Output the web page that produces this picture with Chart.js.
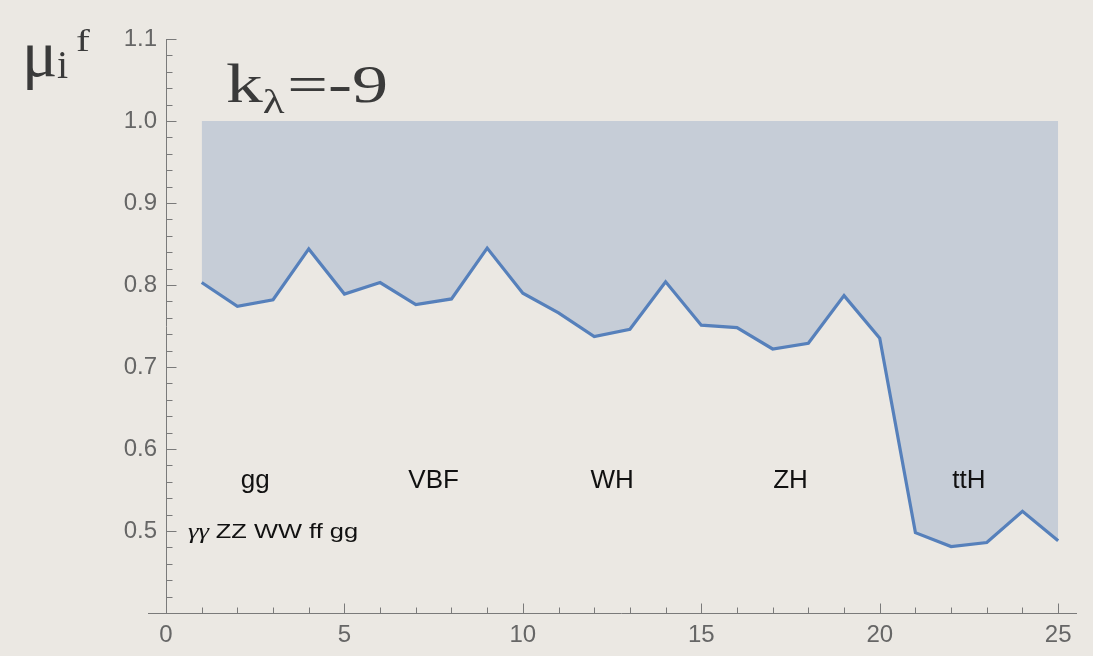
<!DOCTYPE html>
<html>
<head>
<meta charset="utf-8">
<script src="https://cdn.jsdelivr.net/npm/chart.js@4.4.1/dist/chart.umd.min.js"></script>
<style>
  html, body { margin: 0; padding: 0; background: #ebe8e3; }
  #wrap { width: 1093px; height: 656px; position: relative; }
  canvas { display: block; }
</style>
</head>
<body>
<div id="wrap"><canvas id="chart" width="1093" height="656"></canvas></div>
<script>
// Channel index i (production mode x decay mode) and signal strength mu_i^f
const channelIndex = [1, 2, 3, 4, 5, 6, 7, 8, 9, 10, 11, 12, 13, 14, 15, 16, 17, 18, 19, 20, 21, 22, 23, 24, 25];
const muValues = [
  0.803, 0.774, 0.782, 0.844, 0.789,
  0.803, 0.776, 0.783, 0.845, 0.790,
  0.766, 0.737, 0.746, 0.804, 0.751,
  0.748, 0.722, 0.729, 0.787, 0.735,
  0.498, 0.481, 0.486, 0.524, 0.488
];
const upperBound = 1.0;

// Production modes, one block of five decay channels each
const productionModes = ['gg', 'VBF', 'WH', 'ZH', 'ttH'];
const productionCenters = [2.5, 7.5, 12.5, 17.5, 22.5];
const decayModes = ['γγ', 'ZZ', 'WW', 'ff', 'gg'];

// Axis ticks
const xMajorTicks = [0, 5, 10, 15, 20, 25];
const xTickLabels = ['0', '5', '10', '15', '20', '25'];
const xMinorTicks = [1, 2, 3, 4, 6, 7, 8, 9, 11, 12, 13, 14, 16, 17, 18, 19, 21, 22, 23, 24];
const yMajorTicks = [0.4, 0.5, 0.6, 0.7, 0.8, 0.9, 1.0, 1.1];
const yTickLabels = ['', '0.5', '0.6', '0.7', '0.8', '0.9', '1.0', '1.1'];
const yMinorTicks = [
  0.42, 0.44, 0.46, 0.48, 0.52, 0.54, 0.56, 0.58, 0.62, 0.64, 0.66, 0.68,
  0.72, 0.74, 0.76, 0.78, 0.82, 0.84, 0.86, 0.88, 0.92, 0.94, 0.96, 0.98,
  1.02, 1.04, 1.06, 1.08
];
const xAxisStart = -0.5;

const AXIS_COLOR = '#7a7a7a';
const LINE_COLOR = '#5680bb';
const FILL_COLOR = 'rgba(94,129,181,0.26)';
const SANS = '"Liberation Sans", Arial, Helvetica, sans-serif';
const SERIF = '"Liberation Serif", "Times New Roman", serif';

// Inward-pointing major/minor tick marks, plus the x axis running past the origin
const tickMarks = {
  id: 'tickMarks',
  afterDraw(chart) {
    const { ctx } = chart;
    const xs = chart.scales.x, ys = chart.scales.y;
    const x0 = Math.round(xs.getPixelForValue(0)) + 0.5;
    const yb = Math.round(ys.getPixelForValue(0.4)) + 0.5;
    ctx.save();
    ctx.strokeStyle = AXIS_COLOR;
    ctx.lineWidth = 1;
    ctx.beginPath();
    ctx.moveTo(Math.round(xs.getPixelForValue(xAxisStart)), yb);
    ctx.lineTo(x0, yb);
    yMajorTicks.forEach(v => {
      const py = Math.round(ys.getPixelForValue(v)) + 0.5;
      ctx.moveTo(x0, py); ctx.lineTo(x0 + 10, py);
    });
    yMinorTicks.forEach(v => {
      const py = Math.round(ys.getPixelForValue(v)) + 0.5;
      ctx.moveTo(x0, py); ctx.lineTo(x0 + 6, py);
    });
    xMajorTicks.forEach(v => {
      if (v === 0) return;
      const px = Math.round(xs.getPixelForValue(v)) + 0.5;
      ctx.moveTo(px, yb); ctx.lineTo(px, yb - 10);
    });
    xMinorTicks.forEach(v => {
      const px = Math.round(xs.getPixelForValue(v)) + 0.5;
      ctx.moveTo(px, yb); ctx.lineTo(px, yb - 6);
    });
    ctx.stroke();
    ctx.restore();
  }
};

// Draws text stretched horizontally to a given width
function drawFitted(ctx, parts, x, baseline, width) {
  let natural = 0;
  parts.forEach(p => { ctx.font = p.font; natural += ctx.measureText(p.text).width + (p.gap || 0); });
  const sx = width / natural;
  ctx.save();
  ctx.translate(x, baseline);
  ctx.scale(sx, 1);
  let cx = 0;
  parts.forEach(p => {
    ctx.font = p.font;
    ctx.fillText(p.text, cx, p.dy || 0);
    cx += ctx.measureText(p.text).width + (p.gap || 0);
  });
  ctx.restore();
}

// Block labels, decay list, panel title and axis symbol
const labels = {
  id: 'labels',
  afterDraw(chart) {
    const { ctx } = chart;
    const xs = chart.scales.x, ys = chart.scales.y;
    ctx.save();
    ctx.fillStyle = '#111';
    ctx.textBaseline = 'alphabetic';
    ctx.textAlign = 'center';
    ctx.font = '26px ' + SANS;
    const modeY = ys.getPixelForValue(0.552);
    productionModes.forEach((m, i) => {
      ctx.fillText(m, xs.getPixelForValue(productionCenters[i]), modeY);
    });

    ctx.textAlign = 'left';
    const decayParts = decayModes.map((d, i) => ({
      text: d + (i < decayModes.length - 1 ? ' ' : ''),
      font: /[\u0370-\u03ff]/.test(d) ? 'italic 21px ' + SERIF : '20px ' + SANS
    }));
    const decayWidth = 170;
    drawFitted(ctx, decayParts, xs.getPixelForValue(3) - decayWidth / 2, ys.getPixelForValue(0.492), decayWidth);

    // panel title k_lambda = -9
    ctx.fillStyle = '#3a3a3a';
    drawFitted(ctx, [
      { text: 'k', font: '54px ' + SERIF },
      { text: 'λ', font: '33px ' + SERIF, dy: 11, gap: 2 },
      { text: '=-9', font: '53px ' + SERIF }
    ], 226, 102, 162);

    // axis symbol mu_i^f
    ctx.font = '66px ' + SERIF;
    ctx.fillText('μ', 22, 76);
    ctx.font = '40px ' + SERIF;
    ctx.fillText('i', 57, 78);
    ctx.save();
    ctx.translate(76, 51);
    ctx.scale(1.3, 1);
    ctx.font = '32px ' + SERIF;
    ctx.fillText('f', 0, 0);
    ctx.restore();
    ctx.restore();
  }
};

const tickFont = { family: SANS, size: 24 };

new Chart(document.getElementById('chart'), {
  type: 'line',
  data: {
    datasets: [{
      data: channelIndex.map((x, i) => ({ x, y: muValues[i] })),
      borderColor: LINE_COLOR,
      borderWidth: 3.2,
      backgroundColor: FILL_COLOR,
      fill: { value: upperBound },
      pointRadius: 0,
      tension: 0,
      borderJoinStyle: 'miter'
    }]
  },
  options: {
    responsive: false,
    animation: false,
    devicePixelRatio: 1,
    layout: { padding: { left: 106, right: 17, top: 39, bottom: 0 } },
    plugins: { legend: { display: false }, tooltip: { enabled: false } },
    scales: {
      x: {
        type: 'linear',
        min: 0,
        max: 25.5,
        afterBuildTicks: s => { s.ticks = xMajorTicks.map(v => ({ value: v })); },
        afterFit: s => { s.height = 43; },
        ticks: {
          font: tickFont,
          color: '#666',
          padding: 8,
          maxRotation: 0,
          autoSkip: false,
          callback: v => xTickLabels[xMajorTicks.indexOf(v)]
        },
        grid: { drawOnChartArea: false, drawTicks: false },
        border: { color: AXIS_COLOR, width: 1 }
      },
      y: {
        type: 'linear',
        position: 'left',
        min: 0.4,
        max: 1.1,
        afterBuildTicks: s => { s.ticks = yMajorTicks.map(v => ({ value: v })); },
        afterFit: s => { s.width = 60; },
        ticks: {
          font: tickFont,
          color: '#666',
          padding: 9,
          autoSkip: false,
          callback: v => yTickLabels[yMajorTicks.indexOf(v)]
        },
        grid: { drawOnChartArea: false, drawTicks: false },
        border: { color: AXIS_COLOR, width: 1 }
      }
    }
  },
  plugins: [tickMarks, labels]
});
</script>
</body>
</html>
